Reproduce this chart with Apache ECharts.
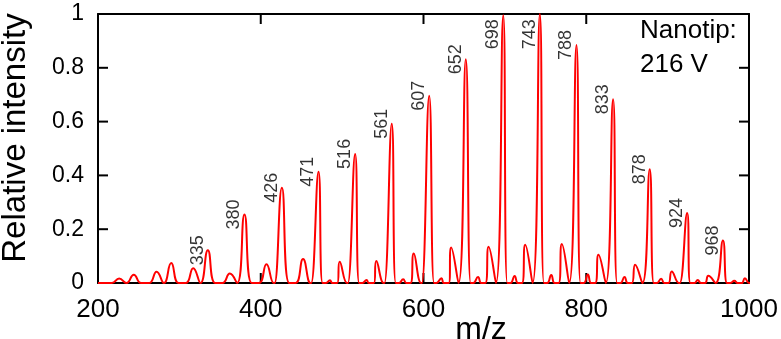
<!DOCTYPE html>
<html>
<head>
<meta charset="utf-8">
<script src="https://cdn.jsdelivr.net/npm/echarts@6/dist/echarts.min.js"></script>
<style>
  html, body { margin: 0; padding: 0; background: #fff; }
  #chart { width: 781px; height: 339px; }
</style>
</head>
<body>
<div id="chart"></div>
<script>
// main ion series (labelled from 335 up)
var mainMz = [244, 290, 335, 380, 426, 471, 516, 561, 607, 652, 698, 743, 788, 833, 878, 924, 968];
var mainInt = [0.031, 0.074, 0.122, 0.255, 0.354, 0.414, 0.48, 0.592, 0.696, 0.832, 0.995, 1.0, 0.885, 0.683, 0.423, 0.26, 0.158];
var peakLabels = ["335", "380", "426", "471", "516", "561", "607", "652", "698", "743", "788", "833", "878", "924", "968"];

// smaller satellite peaks
var satMz = [226, 272, 317, 362, 407, 452, 497, 542, 588, 634, 680, 725, 770, 815, 860, 905, 950, 995];
var satInt = [0.017, 0.042, 0.055, 0.035, 0.07, 0.089, 0.079, 0.082, 0.11, 0.132, 0.135, 0.142, 0.145, 0.105, 0.068, 0.043, 0.027, 0.018];

// tiny peaks
var tinyMz = [485, 530, 575, 622, 667, 712, 757, 802, 847, 892, 937, 982];
var tinyInt = [0.01, 0.011, 0.014, 0.018, 0.022, 0.026, 0.03, 0.032, 0.022, 0.016, 0.011, 0.008];

var xTicks = [200, 400, 600, 800, 1000];
var yTicks = [0, 0.2, 0.4, 0.6, 0.8, 1];

var font = "'Liberation Sans', Arial, sans-serif";
var halfWidth = 9;
var tickLen = 10;

var xMin = xTicks[0], xMax = xTicks[xTicks.length - 1];
var yMin = yTicks[0], yMax = yTicks[yTicks.length - 1];

// build the spectrum trace: baseline - apex - baseline for each peak
var peaks = [];
mainMz.forEach(function (m, i) { peaks.push([m, mainInt[i]]); });
satMz.forEach(function (m, i) { peaks.push([m, satInt[i]]); });
tinyMz.forEach(function (m, i) { peaks.push([m, tinyInt[i]]); });
var trace = [[xMin, 0], [xMax, 0]];
peaks.forEach(function (p) {
  trace.push([p[0] - halfWidth, 0]);
  trace.push(p);
  trace.push([p[0] + halfWidth, 0]);
});
trace.sort(function (a, b) { return a[0] - b[0]; });

// label anchors for the labelled main peaks
var labelData = [];
peakLabels.forEach(function (t) {
  var i = mainMz.indexOf(Number(t));
  labelData.push([mainMz[i], Math.min(mainInt[i], 0.925), t]);
});

// inward ticks on all four sides (interior ticks only)
var tickData = [];
xTicks.slice(1, -1).forEach(function (v) { tickData.push([v, 0]); });
yTicks.slice(1, -1).forEach(function (v) { tickData.push([v, 1]); });

function renderTick(params, api) {
  var v = api.value(0);
  var isY = api.value(1) === 1;
  var style = { stroke: "#000", lineWidth: 2 };
  var a, b;
  if (!isY) {
    a = api.coord([v, yMin]);
    b = api.coord([v, yMax]);
    return {
      type: "group",
      children: [
        { type: "line", shape: { x1: a[0], y1: a[1], x2: a[0], y2: a[1] - tickLen }, style: style },
        { type: "line", shape: { x1: b[0], y1: b[1], x2: b[0], y2: b[1] + tickLen }, style: style }
      ]
    };
  }
  a = api.coord([xMin, v]);
  b = api.coord([xMax, v]);
  return {
    type: "group",
    children: [
      { type: "line", shape: { x1: a[0], y1: a[1], x2: a[0] + tickLen, y2: a[1] }, style: style },
      { type: "line", shape: { x1: b[0], y1: b[1], x2: b[0] - tickLen, y2: b[1] }, style: style }
    ]
  };
}

function frame(pos, labels) {
  return {
    type: "value",
    position: pos,
    axisLine: { show: true, onZero: false, lineStyle: { color: "#000", width: 2 } },
    axisTick: { show: false },
    splitLine: { show: false },
    axisLabel: labels || { show: false }
  };
}

var xBottom = frame("bottom", {
  color: "#000", fontSize: 26, fontFamily: font, margin: 14,
  formatter: function (v) { return String(v); }
});
var xTop = frame("top");
[xBottom, xTop].forEach(function (a) {
  a.min = xMin;
  a.max = xMax;
  a.interval = 200;
});
var yLeft = frame("left", { color: "#000", fontSize: 23, fontFamily: font, margin: 14 });
var yRight = frame("right");
[yLeft, yRight].forEach(function (a) {
  a.min = yMin;
  a.max = yMax;
  a.interval = 0.2;
});

var option = {
  animation: false,
  grid: { left: 98, right: 32, top: 14, bottom: 56 },
  xAxis: [xBottom, xTop],
  yAxis: [yLeft, yRight],
  series: [
    {
      type: "custom",
      data: tickData,
      renderItem: renderTick,
      silent: true,
      z: 1
    },
    {
      type: "line",
      data: trace,
      smooth: true,
      showSymbol: false,
      clip: true,
      z: 3,
      lineStyle: { color: "#ff0000", width: 2 }
    },
    {
      type: "scatter",
      data: labelData,
      symbolSize: 0,
      silent: true,
      label: {
        show: true,
        formatter: function (p) { return p.value[2]; },
        position: "left",
        distance: -4,
        rotate: 90,
        align: "center",
        verticalAlign: "bottom",
        offset: [0, -5],
        color: "#000",
        fontSize: 18,
        fontFamily: font
      }
    }
  ],
  graphic: [
    {
      type: "text",
      x: 16,
      y: 138,
      rotation: Math.PI / 2,
      style: { text: "Relative intensity", font: "33px " + font, fill: "#000", align: "center", verticalAlign: "middle" }
    },
    {
      type: "text",
      x: 481,
      y: 330,
      style: { text: "m/z", font: "32px " + font, fill: "#000", align: "center", verticalAlign: "middle" }
    },
    {
      type: "text",
      x: 640,
      y: 14,
      style: { text: "Nanotip:\n216 V", font: "26px " + font, lineHeight: 34, fill: "#000", align: "left", verticalAlign: "top" }
    }
  ]
};

var chart = echarts.init(document.getElementById("chart"));
chart.setOption(option);
</script>
</body>
</html>
